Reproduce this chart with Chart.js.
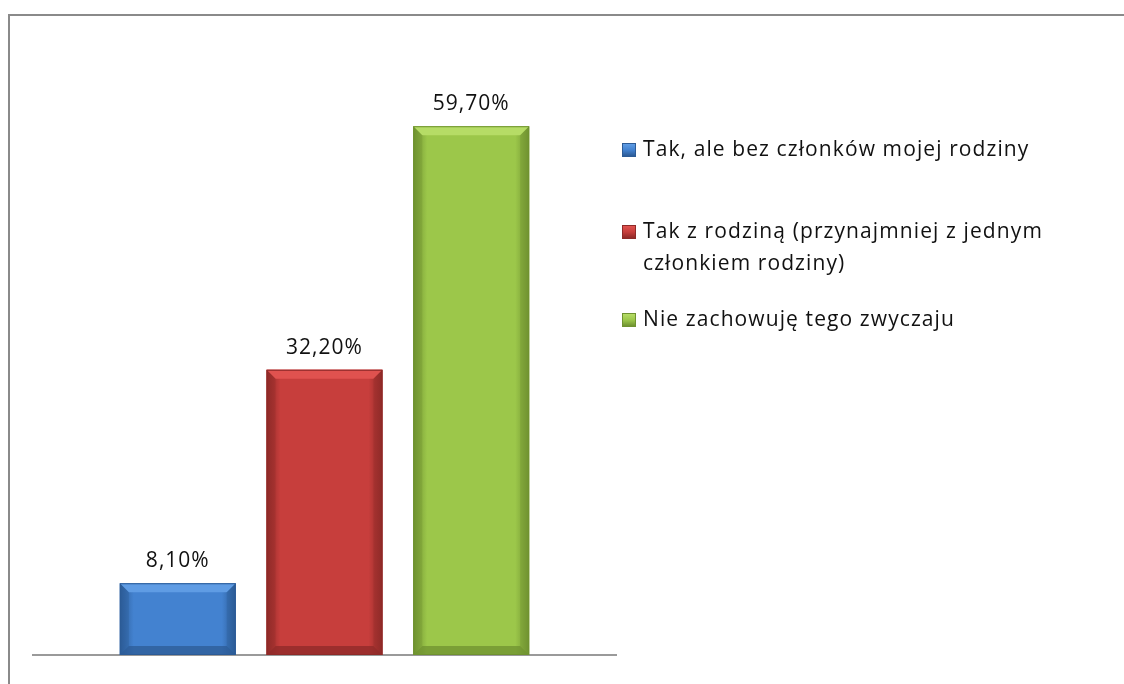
<!DOCTYPE html>
<html>
<head>
<meta charset="utf-8">
<script src="https://cdn.jsdelivr.net/npm/chart.js@4.4.1/dist/chart.umd.min.js"></script>
<style>
  html, body { margin: 0; padding: 0; background: #fff; overflow: hidden; }
  body { width: 1124px; height: 684px; position: relative; }
  #frame { position: absolute; left: 8px; top: 14px; width: 1200px; height: 800px; border: 2px solid #8a8a8a; }
  #wrap { position: absolute; left: 0; top: 0; width: 1124px; height: 684px; }
  #legend { position: absolute; left: 622px; top: 132px; width: 440px; font-family: "Open Sans", sans-serif; font-size: 21px; letter-spacing: 1.1px; color: #111; }
  .item { position: relative; padding-left: 21px; line-height: 32px; }
  .box { position: absolute; left: 0; top: 11px; width: 12px; height: 12px; }
</style>
</head>
<body>
<div id="frame"></div>
<div id="wrap"><canvas id="chart" width="1124" height="684"></canvas></div>
<div id="legend"></div>
<script>
// chart data
var categories = [''];
var seriesNames = ['Tak, ale bez członków mojej rodziny', 'Tak z rodziną (przynajmniej z jednym członkiem rodziny)', 'Nie zachowuję tego zwyczaju'];
var seriesValues = [8.1, 32.2, 59.7];
var mainColors = ['#4382d0', '#c73e3c', '#9cc74a'];
var lightColors = ['#5f9ce4', '#e0524f', '#b6dc66'];
var darkColors = ['#2c5b96', '#8e2a28', '#6f9230'];
var legendGaps = [0, 50, 24];

function fmt(v) {
  return v.toFixed(2).replace('.', ',') + '%';
}

// bevelled bar look, drawn on top of the bars
var bevelPlugin = {
  id: 'bevel',
  afterDatasetsDraw: function(chart) {
    var ctx = chart.ctx;
    chart.data.datasets.forEach(function(ds, i) {
      var bar = chart.getDatasetMeta(i).data[0];
      var l = bar.x - bar.width / 2, r = bar.x + bar.width / 2;
      var t = bar.y, b = bar.base;
      var e = 9;
      ctx.save();
      // body gradient
      var g = ctx.createLinearGradient(l, 0, r, 0);
      g.addColorStop(0, darkColors[i]);
      g.addColorStop(0.12, mainColors[i]);
      g.addColorStop(0.88, mainColors[i]);
      g.addColorStop(1, darkColors[i]);
      ctx.fillStyle = g;
      ctx.fillRect(l, t, r - l, b - t);
      // top bevel
      ctx.fillStyle = lightColors[i];
      ctx.beginPath();
      ctx.moveTo(l, t); ctx.lineTo(r, t); ctx.lineTo(r - e, t + e); ctx.lineTo(l + e, t + e);
      ctx.closePath(); ctx.fill();
      // bottom bevel
      ctx.fillStyle = darkColors[i];
      ctx.globalAlpha = 0.75;
      ctx.beginPath();
      ctx.moveTo(l, b); ctx.lineTo(r, b); ctx.lineTo(r - e, b - e); ctx.lineTo(l + e, b - e);
      ctx.closePath(); ctx.fill();
      // side bevels
      ctx.globalAlpha = 0.35;
      ctx.beginPath();
      ctx.moveTo(l, t); ctx.lineTo(l + e, t + e); ctx.lineTo(l + e, b - e); ctx.lineTo(l, b);
      ctx.closePath(); ctx.fill();
      ctx.beginPath();
      ctx.moveTo(r, t); ctx.lineTo(r - e, t + e); ctx.lineTo(r - e, b - e); ctx.lineTo(r, b);
      ctx.closePath(); ctx.fill();
      ctx.globalAlpha = 1;
      ctx.strokeStyle = darkColors[i];
      ctx.lineWidth = 1;
      ctx.strokeRect(l + 0.5, t + 0.5, r - l - 1, b - t - 1);
      // value label
      ctx.fillStyle = '#111';
      ctx.font = '21px "Open Sans", sans-serif';
      ctx.letterSpacing = '1px';
      ctx.textAlign = 'center';
      ctx.textBaseline = 'alphabetic';
      ctx.fillText(fmt(ds.data[0]), bar.x, t - 16);
      ctx.restore();
    });
  }
};

var datasets = seriesNames.map(function(name, i) {
  return {
    label: name,
    data: [seriesValues[i]],
    backgroundColor: mainColors[i],
    borderWidth: 0,
    categoryPercentage: 0.755,
    barPercentage: 0.79
  };
});

new Chart(document.getElementById('chart').getContext('2d'), {
  type: 'bar',
  data: { labels: categories, datasets: datasets },
  options: {
    responsive: false,
    animation: false,
    layout: { padding: { left: 33, right: 508, top: 35, bottom: 29 } },
    plugins: { legend: { display: false }, tooltip: { enabled: false } },
    scales: {
      x: {
        grid: { display: false, drawTicks: false },
        border: { display: true, color: '#9a9a9a', width: 2 },
        ticks: { display: false }
      },
      y: {
        min: 0, max: 70,
        display: false
      }
    }
  },
  plugins: [bevelPlugin]
});

// html legend
var legend = document.getElementById('legend');
seriesNames.forEach(function(name, i) {
  var item = document.createElement('div');
  item.className = 'item';
  item.style.marginTop = legendGaps[i] + 'px';
  var box = document.createElement('span');
  box.className = 'box';
  box.style.background = 'linear-gradient(' + lightColors[i] + ', ' + mainColors[i] + ' 50%, ' + darkColors[i] + ')';
  box.style.border = '1px solid ' + darkColors[i];
  item.appendChild(box);
  item.appendChild(document.createTextNode(name));
  legend.appendChild(item);
});
</script>
</body>
</html>
